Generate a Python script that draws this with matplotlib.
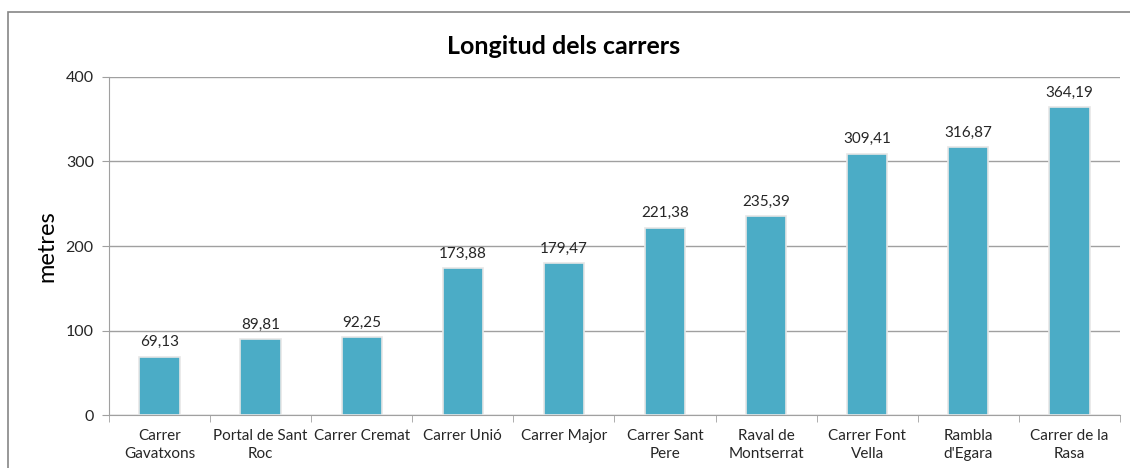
import matplotlib.pyplot as plt
from matplotlib.patches import Rectangle
import numpy as np

plt.rcParams['font.family'] = ['Lato', 'DejaVu Sans']

carrers = ["Carrer\nGavatxons", "Portal de Sant\nRoc", "Carrer Cremat", "Carrer Unió",
           "Carrer Major", "Carrer Sant\nPere", "Raval de\nMontserrat", "Carrer Font\nVella",
           "Rambla\nd'Egara", "Carrer de la\nRasa"]
longituds = [69.13, 89.81, 92.25, 173.88, 179.47, 221.38, 235.39, 309.41, 316.87, 364.19]

gris = '#a0a0a0'
blau = '#4bacc6'

fig = plt.figure(figsize=(11.3, 4.68), dpi=100)
ax = fig.add_axes([0.0965, 0.1132, 0.8945, 0.7223])

x = np.arange(len(carrers))
bars = ax.bar(x, longituds, width=0.4, color=blau, edgecolor='#e6e6e6', linewidth=1.2, zorder=3)

for xi, v in zip(x, longituds):
    ax.text(xi, v + 9, f"{v:.2f}".replace('.', ','), ha='center', va='bottom',
            fontsize=11, color='#262626')

ax.set_xlim(-0.5, len(carrers) - 0.5)
ax.set_ylim(0, 400)
ax.set_yticks([0, 100, 200, 300, 400])
ax.yaxis.grid(True, color=gris, linewidth=1, zorder=0)

ax.set_xticks(x)
ax.set_xticklabels(carrers, fontsize=11, color='#262626', linespacing=1.35)
ax.tick_params(axis='x', length=0, pad=10)
ax.set_xticks(np.arange(-0.5, len(carrers)), minor=True)
ax.tick_params(axis='x', which='minor', length=5, color=gris)
ax.tick_params(axis='y', labelsize=11.5, length=5, color=gris, labelcolor='#262626', pad=6)

for s in ['top', 'right']:
    ax.spines[s].set_visible(False)
for s in ['left', 'bottom']:
    ax.spines[s].set_color(gris)

ax.set_ylabel('metres', fontsize=17, labelpad=6)
fig.text(0.4985, 0.9, 'Longitud dels carrers', ha='center', va='center',
         fontsize=18, fontweight='bold')

fig.patches.append(Rectangle((8 / 1130, -0.1), 1.2, 1.1 - 12 / 468,
                             transform=fig.transFigure, fill=False,
                             edgecolor='#868686', linewidth=1.2))

fig.savefig('out.png', dpi=100)
